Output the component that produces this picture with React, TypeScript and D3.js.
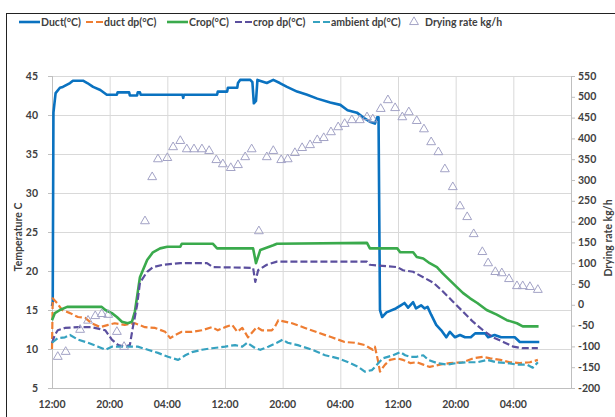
import * as d3 from 'd3'

// hours since 12:00 on day one, value
const duct: [number, number][] = [
    [0, 15.5], [0.1, 16], [0.2, 40.3], [0.5, 42.8], [1.1, 43.5], [1.5, 43.6], [2.5, 44.1], [2.9, 44.4],
    [4.3, 44.4], [4.9, 44.1], [5.7, 43.6], [6.7, 43.2], [7.6, 42.6], [9.0, 42.6], [9.1, 42.9], [10.7, 42.9],
    [10.8, 42.5], [11.8, 42.5], [11.9, 42.9], [12.2, 42.9], [12.3, 42.6], [18.1, 42.6], [18.2, 42.2], [18.3, 42.6],
    [22.9, 42.6], [23.0, 43], [24.3, 43], [24.4, 43.5], [25.7, 43.5], [25.8, 44.1], [26.1, 44.5], [27.5, 44.5],
    [27.8, 44.2], [28.0, 41.5], [28.3, 41.8], [28.5, 44.5], [29.8, 44.1], [30.7, 44.5], [31.6, 44.1], [32.6, 43.6],
    [34.0, 43], [35.4, 42.6], [36.8, 42.1], [38.6, 41.6], [40.0, 41.3], [41.0, 40.6], [42.3, 40.3], [43.3, 39.6],
    [44.2, 39.1], [44.8, 38.9], [45.1, 39.7], [45.3, 39.7], [45.5, 15], [45.8, 14.1], [46.4, 14.7], [47.7, 15.2],
    [48.4, 15.6], [48.9, 15.9], [49.4, 15.3], [50.1, 16], [50.5, 15.2], [51.2, 15.6], [51.7, 15.2], [52.1, 15.4],
    [52.6, 14.4], [53.3, 13.1], [54.0, 12.4], [54.7, 11.5], [55.2, 12.2], [55.9, 11.5], [56.6, 11.8], [57.3, 11.5],
    [58.1, 11.5], [58.7, 12], [60.1, 12], [60.5, 11.5], [61.4, 11.8], [62.3, 11.5], [64.2, 11.5], [64.9, 10.9],
    [67.6, 10.9],
]

const ductDp: [number, number][] = [
    [0, 10], [0.1, 16.5], [0.7, 15.9], [1.4, 15], [2.5, 14.6], [3.6, 14.1], [4.6, 14], [5.5, 13.3], [6.7, 12.8],
    [7.8, 13.1], [8.7, 13.3], [10.1, 13.1], [11.5, 13.3], [12.9, 12.8], [14.3, 12.7], [15.7, 12.2], [16.4, 11.4],
    [17.1, 11.8], [18.0, 12.2], [19.4, 12.2], [20.8, 12.4], [22.2, 12.8], [23.0, 12.4], [24.0, 12.8], [25.0, 13.1],
    [25.7, 12.2], [26.4, 12.7], [27.2, 11.5], [28.4, 12.8], [29.1, 12.4], [30.5, 12.4], [30.9, 12.8], [31.4, 13.7],
    [33.3, 13.3], [35.1, 12.7], [36.9, 12.1], [38.8, 11.5], [40.6, 10.9], [42.0, 10.8], [43.4, 10.5], [44.5, 9.9],
    [44.8, 10.3], [45.2, 8.6], [45.5, 7.1], [46.2, 8], [46.9, 8.6], [47.9, 8.8], [48.7, 8.6], [49.7, 8.2],
    [50.6, 8.3], [51.5, 8], [52.4, 7.7], [53.8, 8], [55.2, 8.2], [57.0, 8.3], [58.4, 8.8], [59.8, 9], [60.8, 8.8],
    [62.2, 8.6], [63.5, 8.3], [64.9, 8.2], [66.3, 8.3], [67.4, 8.6],
]

const crop: [number, number][] = [
    [0, 13.7], [0.4, 14.6], [1.1, 15], [2.1, 15.4], [6.9, 15.4], [7.4, 15], [8.3, 14.6], [9.0, 14.1], [9.7, 13.5],
    [10.5, 13.3], [11.1, 13.5], [11.5, 14.8], [11.9, 17.3], [12.2, 19.2], [13.2, 21.4], [14.0, 22.4], [15.0, 22.9],
    [16.0, 23.1], [17.8, 23.1], [18.0, 23.5], [22.3, 23.5], [22.9, 22.9], [27.9, 22.9], [28.3, 21], [28.9, 22.7],
    [30.7, 23.3], [31.2, 23.5], [43.7, 23.6], [44.1, 22.9], [47.9, 22.9], [48.3, 22.4], [50.1, 22.4], [50.6, 21.8],
    [51.5, 21.6], [52.4, 21], [53.4, 20.5], [54.2, 19.7], [55.2, 18.8], [56.2, 17.9], [57.0, 17.2], [58.0, 16.5],
    [59.0, 15.9], [60.3, 15], [61.7, 14.4], [63.1, 13.7], [64.5, 13.3], [65.3, 12.9], [67.5, 12.9],
]

const cropDp: [number, number][] = [
    [0, 10.8], [0.4, 11.8], [0.8, 12.4], [1.8, 12.7], [3.6, 12.8], [5.5, 12.8], [7.4, 12.4], [8.3, 11.2],
    [9.2, 10.5], [10.1, 10.3], [10.8, 10.5], [11.2, 12.7], [11.8, 15.6], [12.2, 18.5], [13.2, 19.9], [14.0, 20.5],
    [15.4, 20.8], [17.8, 21], [21.5, 21], [22.3, 20.5], [27.9, 20.4], [28.2, 18.6], [28.6, 20.1], [29.8, 20.8],
    [31.2, 21.2], [43.7, 21.2], [44.1, 20.8], [47.9, 20.5], [48.7, 20.1], [50.1, 19.9], [51.5, 19.2], [52.9, 18.5],
    [54.2, 17.4], [55.6, 16.1], [57.0, 14.8], [58.4, 13.5], [59.8, 12.4], [61.2, 11.5], [62.6, 10.9], [64.0, 10.3],
    [65.3, 10.1], [67.4, 10.1],
]

const ambientDp: [number, number][] = [
    [0, 10.8], [0.8, 11.4], [1.8, 11.5], [2.5, 11.8], [3.6, 11.2], [5.0, 10.8], [6.4, 10.3], [7.4, 9.9], [8.3, 10.3],
    [10.1, 10.3], [11.9, 10.3], [13.3, 9.9], [14.7, 9.5], [16.1, 9.0], [17.5, 8.6], [18.5, 9.2], [19.4, 9.6],
    [20.8, 9.9], [22.2, 10.1], [24.0, 10.3], [25.4, 10.5], [26.4, 10.3], [27.1, 10.8], [28.2, 10.1], [28.9, 9.9],
    [30.0, 10.3], [31.2, 10.8], [32.0, 11.2], [32.7, 10.8], [34.1, 10.5], [36.1, 9.9], [37.9, 9.2], [39.7, 8.8],
    [41.1, 8.3], [42.5, 7.7], [43.4, 7.1], [44.4, 7.3], [45.1, 8], [45.9, 8.8], [47.3, 9.2], [48.3, 9.6], [49.0, 9.2],
    [49.7, 9], [50.6, 9], [51.5, 9.2], [52.2, 8.6], [53.4, 8.2], [54.8, 8], [56.2, 8.2], [57.6, 8.3], [59.0, 8.3],
    [60.4, 8.6], [61.7, 8.3], [63.1, 8.2], [64.5, 8], [65.9, 8], [66.7, 7.6], [67.4, 8.3],
]

// drying rate, kg/h (secondary axis)
const dryingRate: [number, number][] = [
    [0.8, -125], [1.9, -113], [3.9, -60], [5.0, -38], [6.0, -27], [6.9, -22], [7.8, -24], [9.0, -65], [10.0, -101],
    [12.9, 201], [13.9, 307], [14.7, 350], [16.0, 353], [16.8, 379], [17.8, 394], [18.7, 374], [19.7, 374],
    [20.8, 374], [21.8, 370], [22.8, 348], [23.7, 338], [24.8, 329], [25.8, 336], [26.8, 355], [27.7, 374],
    [28.7, 177], [29.8, 355], [30.7, 370], [31.8, 348], [32.7, 350], [33.7, 365], [34.7, 377], [35.8, 384],
    [36.8, 396], [37.7, 401], [38.7, 415], [39.7, 427], [40.6, 435], [41.6, 444], [42.7, 444], [43.7, 451],
    [44.5, 446], [45.6, 471], [46.6, 492], [47.6, 473], [48.6, 451], [49.5, 463], [50.6, 442], [51.6, 422],
    [52.6, 391], [53.6, 367], [54.5, 326], [55.6, 283], [56.6, 237], [57.6, 211], [58.5, 170], [59.7, 127],
    [60.5, 100], [61.5, 79], [62.4, 76], [63.4, 62], [64.5, 45], [65.3, 45], [66.3, 43], [67.4, 36],
]

const timeTicks = [0, 8, 16, 24, 32, 40, 48, 56, 64]
const timeLabels = ['12:00', '20:00', '04:00', '12:00', '20:00', '04:00', '12:00', '20:00', '04:00']
const tempTicks = [5, 10, 15, 20, 25, 30, 35, 40, 45]
const rateTicks = [-200, -150, -100, -50, 0, 50, 100, 150, 200, 250, 300, 350, 400, 450, 500, 550]

const font = 'Lato, "Open Sans", sans-serif'
const textColor = '#404040'
const gridColor = '#d9d9d9'

const series = [
    { name: 'Duct(°C)', data: duct, color: '#0a72c0', width: 2.6, dash: null, lx: 19 },
    { name: 'duct dp(°C)', data: ductDp, color: '#ee7d32', width: 2.2, dash: '7,3', lx: 86 },
    { name: 'Crop(°C)', data: crop, color: '#3aaa4c', width: 2.6, dash: null, lx: 167 },
    { name: 'crop dp(°C)', data: cropDp, color: '#5b4f9e', width: 2.2, dash: '7,3', lx: 235 },
    { name: 'ambient dp(°C)', data: ambientDp, color: '#36a2c0', width: 2.2, dash: '7,3', lx: 313 },
]

function App() {
    const left = 52
    const right = 571
    const top = 76
    const bottom = 388

    const x = d3.scaleLinear().domain([0, 72]).range([left, right])
    const y = d3.scaleLinear().domain([5, 45]).range([bottom, top])
    const y2 = d3.scaleLinear().domain([-200, 550]).range([bottom, top])

    const line = d3
        .line<[number, number]>()
        .x((d) => x(d[0]))
        .y((d) => y(d[1]))

    const triangle = d3.symbol(d3.symbolTriangle, 34)()

    return (
        <div style={{ position: 'absolute', left: 0, top: 0 }}>
            <svg width={615} height={417} style={{ display: 'block', background: '#fff' }}>
                <rect x={6.5} y={13.5} width={700} height={500} fill="#fff" stroke="#222" strokeWidth={1} />

                {/* grid */}
                {tempTicks.map((t) => (
                    <line key={'h' + t} x1={left} x2={right} y1={y(t) + 0.5} y2={y(t) + 0.5} stroke={gridColor} />
                ))}
                {timeTicks.concat([72]).map((t) => (
                    <line key={'v' + t} x1={x(t) + 0.5} x2={x(t) + 0.5} y1={top} y2={bottom} stroke={gridColor} />
                ))}

                {/* left axis */}
                <line x1={left + 0.5} x2={left + 0.5} y1={top} y2={bottom} stroke="#bfbfbf" />
                {tempTicks.map((t) => (
                    <g key={'lt' + t}>
                        <line x1={left - 4} x2={left} y1={y(t) + 0.5} y2={y(t) + 0.5} stroke="#bfbfbf" />
                        <text
                            x={38}
                            y={y(t)}
                            dy="0.35em"
                            textAnchor="end"
                            fontSize={10.5}
                            fontWeight="bold"
                            fontFamily={font}
                            fill={textColor}
                        >
                            {t}
                        </text>
                    </g>
                ))}

                {/* right axis */}
                <line x1={right + 0.5} x2={right + 0.5} y1={top} y2={bottom} stroke="#bfbfbf" />
                {rateTicks.map((t) => (
                    <g key={'rt' + t}>
                        <line x1={right} x2={right + 4} y1={y2(t) + 0.5} y2={y2(t) + 0.5} stroke="#bfbfbf" />
                        <text
                            x={578}
                            y={y2(t)}
                            dy="0.35em"
                            fontSize={10.5}
                            fontWeight="bold"
                            fontFamily={font}
                            fill={textColor}
                        >
                            {t}
                        </text>
                    </g>
                ))}

                {/* bottom axis */}
                <line x1={left} x2={right} y1={bottom + 0.5} y2={bottom + 0.5} stroke="#bfbfbf" />
                {timeTicks.map((t, i) => (
                    <text
                        key={'xt' + i}
                        x={x(t)}
                        y={408}
                        textAnchor="middle"
                        fontSize={10.5}
                        fontWeight="bold"
                        fontFamily={font}
                        fill={textColor}
                    >
                        {timeLabels[i]}
                    </text>
                ))}

                {/* axis titles */}
                <text
                    transform="translate(22,237) rotate(-90)"
                    textAnchor="middle"
                    fontSize={10.5}
                    fontWeight="bold"
                    fontFamily={font}
                    fill={textColor}
                >
                    Temperature C
                </text>
                <text
                    transform="translate(612,238) rotate(-90)"
                    textAnchor="middle"
                    fontSize={10.5}
                    fontWeight="bold"
                    fontFamily={font}
                    fill={textColor}
                >
                    Drying rate kg/h
                </text>

                {/* lines */}
                {series.map((s) => (
                    <path
                        key={s.name}
                        d={line(s.data) || ''}
                        fill="none"
                        stroke={s.color}
                        strokeWidth={s.width}
                        strokeDasharray={s.dash || undefined}
                        strokeLinejoin="round"
                    />
                ))}

                {/* drying rate triangles */}
                {dryingRate.map((d, i) => (
                    <path
                        key={'tr' + i}
                        d={triangle || ''}
                        transform={`translate(${x(d[0])},${y2(d[1])})`}
                        fill="none"
                        stroke="#a3a3c6"
                        strokeWidth={1}
                    />
                ))}

                {/* legend */}
                {series.map((s) => (
                    <g key={'lg' + s.name}>
                        <line
                            x1={s.lx}
                            x2={s.lx + (s.dash ? 17 : 21)}
                            y1={22}
                            y2={22}
                            stroke={s.color}
                            strokeWidth={s.width}
                            strokeDasharray={s.dash || undefined}
                        />
                        <text
                            x={s.lx + (s.dash ? 18 : 22)}
                            y={22}
                            dy="0.35em"
                            fontSize={10.5}
                            fontWeight="bold"
                            fontFamily={font}
                            fill={textColor}
                        >
                            {s.name}
                        </text>
                    </g>
                ))}
                <path d={triangle || ''} transform="translate(414,22)" fill="none" stroke="#a3a3c6" />
                <text x={425} y={22} dy="0.35em" fontSize={10.5} fontWeight="bold" fontFamily={font} fill={textColor}>
                    Drying rate kg/h
                </text>
            </svg>
        </div>
    )
}

export default App
